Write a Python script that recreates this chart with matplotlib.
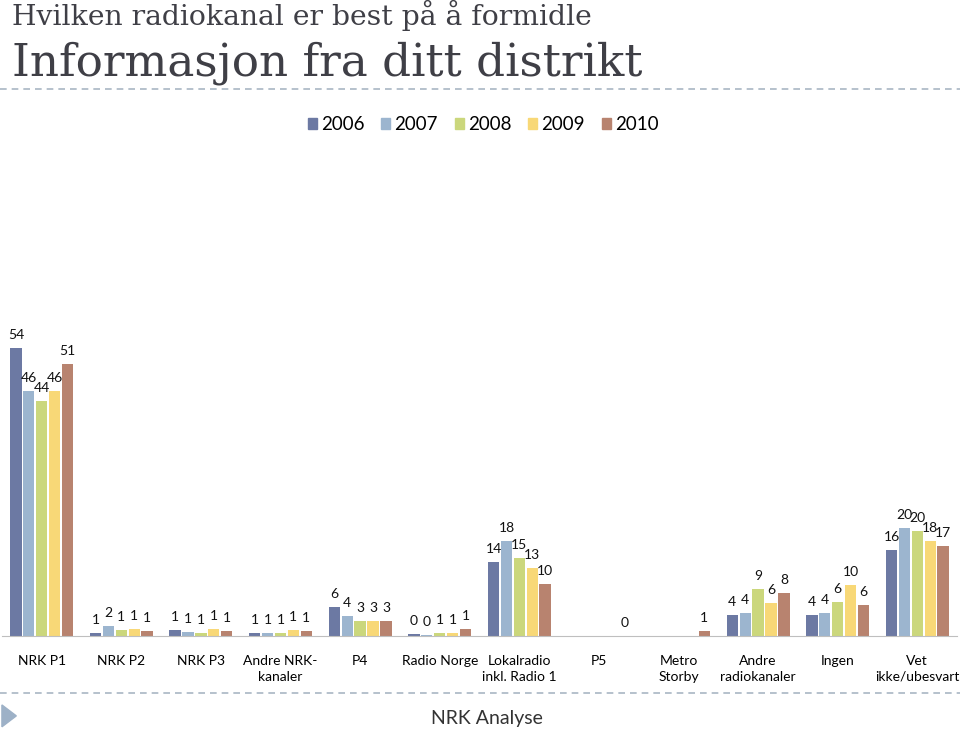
import numpy as np
import matplotlib
matplotlib.use("Agg")
import matplotlib.pyplot as plt
from matplotlib.patches import Polygon

# data (labels are the rounded values)
categories = ["NRK P1", "NRK P2", "NRK P3", "Andre NRK-\nkanaler", "P4", "Radio Norge",
              "Lokalradio\ninkl. Radio 1", "P5", "Metro\nStorby", "Andre\nradiokanaler",
              "Ingen", "Vet\nikke/ubesvart"]
years = ["2006", "2007", "2008", "2009", "2010"]
nan = np.nan
v2006 = [54, 0.6, 1.2, 0.6, 5.5, 0.3, 13.8, nan, nan, 4.0, 4.0, 16.2]
v2007 = [46, 1.8, 0.8, 0.5, 3.8, 0.2, 17.8, nan, nan, 4.3, 4.3, 20.2]
v2008 = [44, 1.2, 0.5, 0.6, 2.8, 0.6, 14.6, nan, nan, 8.8, 6.3, 19.6]
v2009 = [46, 1.4, 1.3, 1.2, 2.9, 0.6, 12.8, nan, nan, 6.2, 9.6, 17.8]
v2010 = [51, 0.9, 0.9, 0.9, 2.8, 1.3, 9.7, 0.0, 1.0, 8.0, 5.8, 16.9]
series = [v2006, v2007, v2008, v2009, v2010]
colors = ["#6C79A3", "#9CB5CF", "#CBD77C", "#F8D877", "#B8836F"]

LABEL_FONT = ["Lato", "DejaVu Sans"]
TITLE_FONT = ["DejaVu Serif"]

fig = plt.figure(figsize=(9.6, 7.29), dpi=100)
ax = fig.add_axes([0.002, 0.1276, 0.995, 0.461])

x = np.arange(len(categories))
step = 0.162
width = 0.142
for k, (vals, col) in enumerate(zip(series, colors)):
    pos = x + (k - 2) * step
    arr = np.array(vals, dtype=float)
    ax.bar(pos, arr, width=width, color=col, zorder=2)
    for p, v in zip(pos, arr):
        if np.isnan(v):
            continue
        ax.annotate(f"{int(round(v + 1e-9))}", (p, v), xytext=(0, 5),
                    textcoords="offset points", ha="center", va="bottom",
                    fontsize=10, family=LABEL_FONT, color="#111111")

ax.set_xlim(-0.5, len(categories) - 0.5)
ax.set_ylim(0, 63)
ax.set_yticks([])
ax.set_xticks(x)
ax.set_xticklabels(categories, family=LABEL_FONT, fontsize=10, linespacing=1.35)
ax.tick_params(axis="x", length=0, pad=14)
for s in ["top", "right", "left"]:
    ax.spines[s].set_visible(False)
ax.spines["bottom"].set_color("#BFBFBF")

handles = [plt.Rectangle((0, 0), 1, 1, color=c) for c in colors]
fig.legend(handles, years, loc="center", bbox_to_anchor=(0.503, 0.829), ncol=5,
           frameon=False, prop={"family": LABEL_FONT, "size": 13.5},
           handlelength=0.5, handleheight=0.5, handletextpad=0.2, columnspacing=0.9)

# titles
fig.text(0.012, 0.9657, "Hvilken radiokanal er best på å formidle", family=TITLE_FONT,
         fontsize=20.3, color="#3F3F46", va="baseline", ha="left")
fig.text(0.013, 0.897, "Informasjon fra ditt distrikt", family=TITLE_FONT,
         fontsize=32.6, color="#3F3F46", va="baseline", ha="left")

# dashed separators
fig.add_artist(plt.Line2D([0, 1], [0.878, 0.878], transform=fig.transFigure,
                          color="#A9B6C4", lw=1.2, ls=(0, (4, 3))))
fig.add_artist(plt.Line2D([0, 1], [0.049, 0.049], transform=fig.transFigure,
                          color="#A9B6C4", lw=1.2, ls=(0, (4, 3))))

# footer
fig.text(0.507, 0.015, "NRK Analyse", family=LABEL_FONT, fontsize=14,
         color="#333333", ha="center", va="center")
fig.add_artist(Polygon([[0.002, 0.033], [0.017, 0.018], [0.002, 0.003]], closed=True,
                       transform=fig.transFigure, color="#9DB1C7"))

fig.savefig("out.png", dpi=100)
